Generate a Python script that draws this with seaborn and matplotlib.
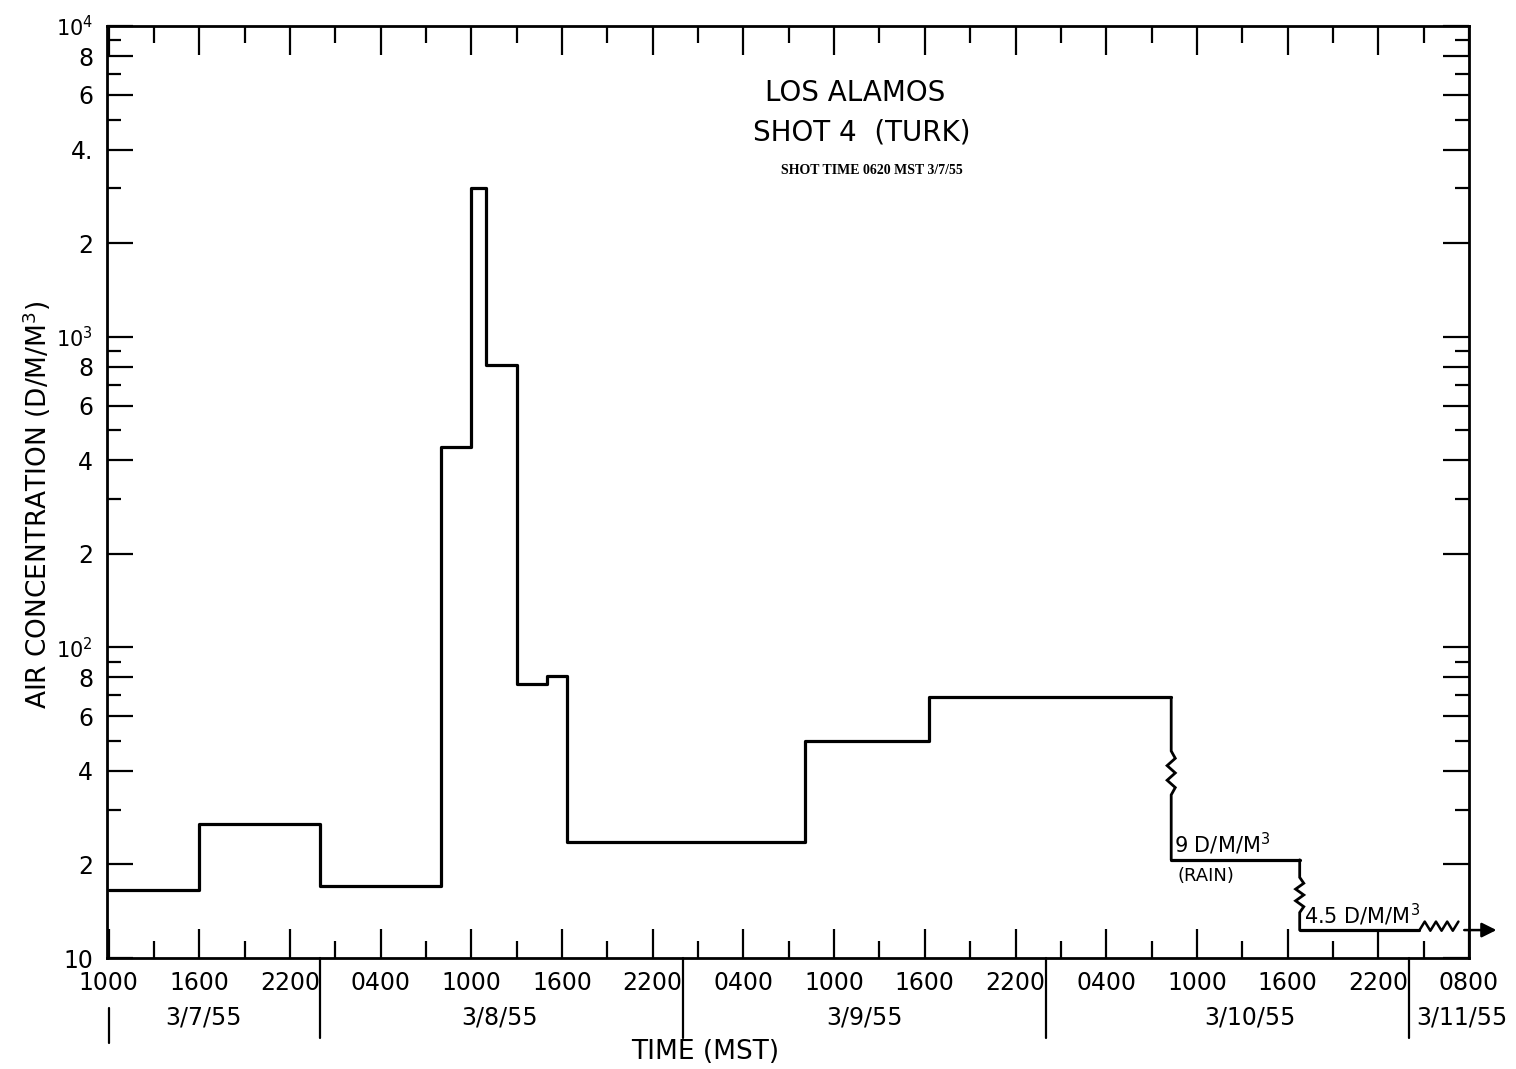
import numpy as np
import pandas as pd
import matplotlib.pyplot as plt
import seaborn as sns

# sampling intervals, hours after 1000 MST 3/7/55
t_start = [0, 6, 14, 22, 24, 25, 27, 29, 30.3, 46.1, 54.3]
conc = [16.5, 27, 17, 440, 3000, 810, 76, 81, 23.6, 50, 69]
t_end = 70.3

# rain period: values are drawn on a broken scale
rain_start = [70.3, 78.8]
rain_end = 86.7
rain_conc = [9, 4.5]
rain_shown = [20.7, 12.3]

x_end = 90.0
tick_hours = list(range(0, 85, 6))
tick_labels = ['1000', '1600', '2200', '0400', '1000', '1600', '2200', '0400',
               '1000', '1600', '2200', '0400', '1000', '1600', '2200']
end_label = '0800'
midnights = [14, 38, 62, 86]
day_labels = ['3/7/55', '3/8/55', '3/9/55', '3/10/55', '3/11/55']
day_label_x = [6.3, 25.9, 50.0, 75.5, 89.5]

y_ticks = [10, 20, 40, 60, 80, 100, 200, 400, 600, 800, 1000, 2000, 4000, 6000, 8000, 10000]
y_labels = ['10', '2', '4', '6', '8', r'$10^2$', '2', '4', '6', '8', r'$10^3$', '2', '4.', '6', '8', r'$10^4$']
y_minor = [30, 50, 70, 90, 300, 500, 700, 900, 3000, 5000, 7000, 9000]

sns.set_style('ticks')
plt.rcParams['font.family'] = ['DejaVu Sans']
plt.rcParams['text.color'] = 'black'

fig = plt.figure(figsize=(15.16, 10.69), dpi=100)
ax = fig.add_axes([107 / 1516, 1 - 958 / 1069, 1362 / 1516, 932 / 1069])

df = pd.DataFrame({'hours': t_start + [t_end], 'conc': conc + [conc[-1]]})
sns.lineplot(data=df, x='hours', y='conc', drawstyle='steps-post', color='black',
             linewidth=2.3, estimator=None, ax=ax)

rain = pd.DataFrame({'hours': [rain_start[0], rain_start[1], rain_start[1], rain_end],
                     'conc': [rain_shown[0], rain_shown[0], rain_shown[1], rain_shown[1]],
                     'seg': [0, 0, 1, 1]})
sns.lineplot(data=rain, x='hours', y='conc', units='seg', estimator=None,
             color='black', linewidth=2.3, ax=ax)


def broken_drop(x, y_top, y_bot, f0, f1, n=3, amp=0.27):
    lt, lb = np.log10(y_top), np.log10(y_bot)
    a = lt + (lb - lt) * f0
    b = lt + (lb - lt) * f1
    ys = np.linspace(a, b, 2 * n + 1)
    xs = [x] + [x + (amp if i % 2 else -amp) if 0 < i < 2 * n else x for i in range(2 * n + 1)] + [x]
    ys = [lt] + list(ys) + [lb]
    ax.plot(xs, 10 ** np.array(ys), color='black', lw=2.0, solid_joinstyle='miter')


broken_drop(t_end, conc[-1], rain_shown[0], 0.33, 0.6)
broken_drop(rain_start[1], rain_shown[0], rain_shown[1], 0.25, 0.75)

# trailing break and arrow past the end of the record
zx = np.linspace(rain_end, 89.3, 8)
zy = [rain_shown[1] * (1.065 if i % 2 else 0.995) for i in range(len(zx))]
ax.plot(zx, zy, color='black', lw=1.8, clip_on=False)
ax.annotate('', xy=(92.0, rain_shown[1]), xytext=(89.5, rain_shown[1]),
            arrowprops=dict(arrowstyle='-|>', color='black', lw=1.8, mutation_scale=22),
            annotation_clip=False)

ax.text(70.5, 21.2, '9 D/M/M$^3$', fontsize=15, ha='left', va='bottom')
ax.text(70.7, 19.6, '(RAIN)', fontsize=13, ha='left', va='top')
ax.text(79.1, 12.5, '4.5 D/M/M$^3$', fontsize=15, ha='left', va='bottom')

ax.set_yscale('log')
ax.set_ylim(10, 10000)
ax.set_xlim(-0.1, x_end)
ax.set_yticks(y_ticks)
ax.set_yticklabels(y_labels)
ax.set_yticks(y_minor, minor=True)
ax.set_yticklabels([], minor=True)
ax.set_xticks(tick_hours + [x_end])
ax.set_xticklabels(tick_labels + [end_label])
ax.set_xticks(list(range(3, 88, 6)), minor=True)
ax.set_xlabel('')
ax.set_ylabel('')

ax.tick_params(which='both', direction='in', top=True, right=True, width=1.6, colors='black')
ax.tick_params(axis='y', which='major', length=19, labelsize=17, pad=10)
ax.tick_params(axis='y', which='minor', length=10)
ax.tick_params(axis='x', which='major', length=21, labelsize=17, pad=9)
ax.tick_params(axis='x', which='minor', length=12)
for lab in ax.get_yticklabels():
    if '$' in lab.get_text():
        lab.set_fontsize(15)
for s in ax.spines.values():
    s.set_linewidth(2.0)
    s.set_color('black')

# day separators below the time axis
trans = ax.get_xaxis_transform()
for m in midnights:
    ax.plot([m, m], [0, -0.086], color='black', lw=1.6, transform=trans, clip_on=False)
ax.plot([0, 0], [-0.054, -0.091], color='black', lw=1.6, transform=trans, clip_on=False)
for lab, xd in zip(day_labels, day_label_x):
    ax.text(xd, -0.064, lab, transform=trans, ha='center', va='center', fontsize=17)

fig.text(0.465, 0.016, 'TIME (MST)', ha='center', va='center', fontsize=19)
fig.text(0.024, 0.528, 'AIR CONCENTRATION (D/M/M$^3$)', rotation=90,
         ha='center', va='center', fontsize=19)

fig.text(855 / 1516, 1 - 93 / 1069, 'LOS ALAMOS', ha='center', va='center', fontsize=20)
fig.text(862 / 1516, 1 - 133 / 1069, 'SHOT 4  (TURK)', ha='center', va='center', fontsize=20)
fig.text(872 / 1516, 1 - 170 / 1069, 'SHOT TIME 0620 MST 3/7/55', ha='center', va='center',
         fontsize=10, family='Liberation Serif', fontweight='bold')

fig.savefig('out.png', dpi=100, facecolor='white')
